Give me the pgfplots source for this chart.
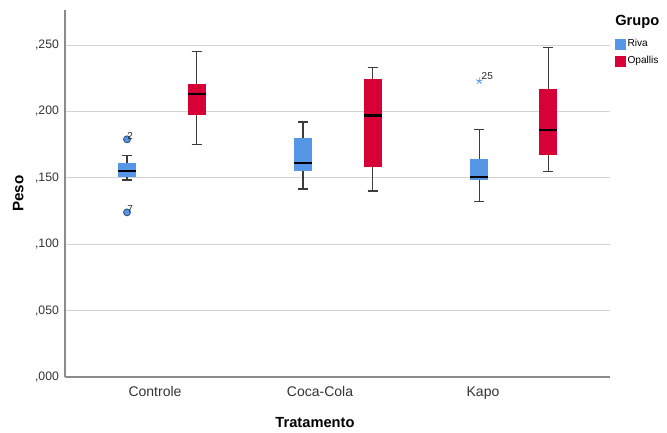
\documentclass[border=0pt]{standalone}
\usepackage{fontspec}
\setmainfont{Liberation Sans}
\usepackage{pgfplots}
\pgfplotsset{compat=1.18}
\usepgfplotslibrary{statistics}
\definecolor{rivablue}{HTML}{5596E6}
\definecolor{opared}{HTML}{D70037}
\definecolor{whisk}{HTML}{3C3C3C}
\definecolor{gridc}{HTML}{D4D4D4}
\definecolor{axc}{HTML}{8C8C8C}
\begin{document}
\begin{tikzpicture}
\useasboundingbox (0pt,0pt) rectangle (500.25pt,324pt);
\begin{axis}[
  at={(48.75pt,41.25pt)}, anchor=origin,
  scale only axis, width=408.75pt, height=275.25pt,
  xmin=0, xmax=545, ymin=0, ymax=0.2764,
  axis x line=bottom, axis y line=left,
  axis line style={-, draw=axc, line width=0.8pt},
  xtick={90,255,418},
  xticklabels={Controle,Coca-Cola,Kapo},
  ytick={0,0.05,0.1,0.15,0.2,0.25},
  yticklabels={{,000},{,050},{,100},{,150},{,200},{,250}},
  major tick length=0pt,
  ymajorgrids, grid style={draw=gridc, line width=0.8pt},
  /pgf/number format/assume math mode=true,
  xticklabel style={font=\fontsize{10.5}{12}\selectfont, color=black!80, yshift=-3.5pt},
  yticklabel style={font=\fontsize{9.2}{11}\selectfont, color=black!80, xshift=-1pt},
  xlabel={\textbf{Tratamento}},
  ylabel={\textbf{Peso}},
  x label style={font=\fontsize{11}{13}\selectfont, at={(axis description cs:0.4587,0)}, anchor=north, yshift=-27pt},
  y label style={font=\fontsize{11.4}{13}\selectfont, at={(axis description cs:0,0.5)}, anchor=center, yshift=35pt},
  clip=false,
  boxplot/draw direction=y,
  boxplot/box extend=18,
  boxplot/whisker extend=10,
  boxplot/every box/.style={draw=none},
  boxplot/every median/.style={draw=black, line width=1.7pt},
  boxplot/every whisker/.style={draw=whisk, line width=1pt},
  legend style={at={(axis cs:550,0.2545)}, anchor=north west, draw=none, fill=none,
    inner sep=0pt, outer sep=0pt, font=\fontsize{7.6}{8}\selectfont, row sep=4.8pt,
    nodes={inner xsep=1.5pt, inner ysep=0pt}},
  legend cell align=left,
]
\addlegendimage{legend image code/.code={\fill[rivablue] (0pt,-3.7pt) rectangle (7.5pt,3.7pt);}}
\addlegendentry{Riva}
\addlegendimage{legend image code/.code={\fill[opared] (0pt,-3.7pt) rectangle (7.5pt,3.7pt);}}
\addlegendentry{Opallis}

% Controle
\addplot[forget plot, fill=rivablue, draw=whisk, boxplot prepared={draw position=62,
  lower whisker=0.1483, lower quartile=0.1506, median=0.155, upper quartile=0.161, upper whisker=0.167}]
  coordinates {};
\addplot[forget plot, fill=opared, draw=whisk, boxplot prepared={draw position=131.7,
  lower whisker=0.1752, lower quartile=0.1973, median=0.2131, upper quartile=0.2204, upper whisker=0.245}]
  coordinates {};
% Coca-Cola
\addplot[forget plot, fill=rivablue, draw=whisk, boxplot prepared={draw position=238,
  lower whisker=0.1415, lower quartile=0.155, median=0.161, upper quartile=0.180, upper whisker=0.192}]
  coordinates {};
\addplot[forget plot, fill=opared, draw=whisk, boxplot prepared={draw position=307.5,
  lower whisker=0.140, lower quartile=0.158, median=0.197, upper quartile=0.2242, upper whisker=0.2332}]
  coordinates {};
% Kapo
\addplot[forget plot, fill=rivablue, draw=whisk, boxplot prepared={draw position=414.3,
  lower whisker=0.132, lower quartile=0.148, median=0.1506, upper quartile=0.164, upper whisker=0.1865}]
  coordinates {};
\addplot[forget plot, fill=opared, draw=whisk, boxplot prepared={draw position=483.3,
  lower whisker=0.155, lower quartile=0.1674, median=0.186, upper quartile=0.217, upper whisker=0.248}]
  coordinates {};

% outliers
\addplot[forget plot, only marks, mark=*, mark size=2.6pt,
  mark options={fill=rivablue, draw=rivablue!50!black, line width=0.6pt},
  nodes near coords, point meta=explicit symbolic,
  nodes near coords style={anchor=south west, font=\fontsize{7.5}{8}\selectfont, color=black!85, inner sep=0.5pt, xshift=-0.5pt, yshift=-1pt}]
  coordinates {(62,0.179) [2] (62,0.124) [7]};
\addplot[forget plot, only marks, mark=star, mark size=2.6pt,
  mark options={draw=rivablue, line width=0.6pt},
  nodes near coords, point meta=explicit symbolic,
  nodes near coords style={anchor=south west, font=\fontsize{7.5}{8}\selectfont, color=black!85, inner sep=0.5pt, xshift=1pt, yshift=0pt}]
  coordinates {(414.3,0.223) [25]};

\node[anchor=west, font=\bfseries\fontsize{11}{13}\selectfont, inner sep=0pt] at (axis cs:550,0.2673) {Grupo};
\end{axis}
\end{tikzpicture}
\end{document}
